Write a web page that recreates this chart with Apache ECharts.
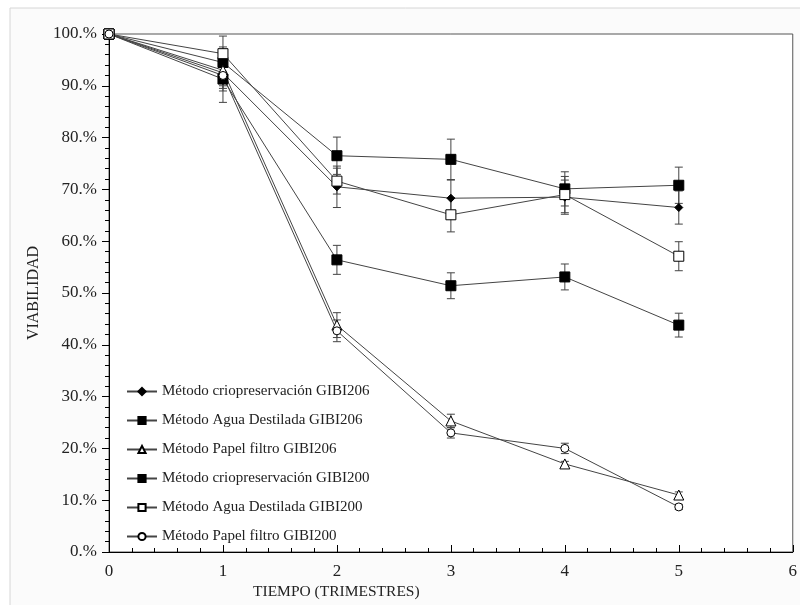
<!DOCTYPE html>
<html lang="es">
<head>
    <meta charset="UTF-8">
    <title>viabilidad</title>
    <style>
        html, body {margin: 0; padding: 0; background: #fff;}
        #main {width: 800px; height: 605px;}
    </style>
</head>
<body>
<div id="main"></div>
<script src="https://cdn.jsdelivr.net/npm/echarts@6/dist/echarts.min.js"></script>
<script type="text/javascript">
// trimestres
var trimestres = [0, 1, 2, 3, 4, 5];

// nombres de las series (leyenda)
var nombres = [
    'Método criopreservación GIBI206',
    'Método Agua Destilada GIBI206',
    'Método Papel filtro GIBI206',
    'Método criopreservación GIBI200',
    'Método Agua Destilada GIBI200',
    'Método Papel filtro GIBI200'
];

// viabilidad (%)
var crio206  = [100, 92.5, 70.5, 68.3, 68.5, 66.5];
var agua206  = [100, 94.5, 76.5, 75.8, 70.1, 70.8];
var papel206 = [100, 93.0, 43.8, 25.3, 17.0, 11.0];
var crio200  = [100, 91.3, 56.4, 51.4, 53.1, 43.8];
var agua200  = [100, 96.2, 71.6, 65.1, 69.0, 57.1];
var papel200 = [100, 92.0, 42.7, 23.0, 20.0, 8.7];

// barras de error (+/-)
var errCrio206  = [0, 2.5, 4.0, 3.5, 3.3, 3.2];
var errAgua206  = [0, 3.0, 3.6, 3.9, 3.3, 3.5];
var errPapel206 = [0, 3.5, 2.4, 1.3, 0.5, 0.6];
var errCrio200  = [0, 4.5, 2.8, 2.5, 2.5, 2.3];
var errAgua200  = [0, 3.4, 2.5, 3.3, 3.5, 2.8];
var errPapel200 = [0, 3.0, 2.1, 1.0, 1.0, 0.5];

var valores = [crio206, agua206, papel206, crio200, agua200, papel200];
var errores = [errCrio206, errAgua206, errPapel206, errCrio200, errAgua200, errPapel200];
var simbolos = ['diamond', 'rect', 'triangle', 'rect', 'rect', 'circle'];
var tamanos = [8, 10, 10, 10, 10, 8];
var rellenos = ['#000', '#000', '#fff', '#000', '#fff', '#fff'];

var fuente = 'Liberation Serif, Times New Roman, serif';
var lineaColor = '#444';

var series = [];
for (var i = 0; i < nombres.length; i++) {
    var puntos = trimestres.map(function (t, k) { return [t, valores[i][k]]; });
    series.push({
        name: nombres[i],
        type: 'line',
        data: puntos,
        symbol: simbolos[i],
        symbolSize: tamanos[i],
        z: 3,
        lineStyle: {color: lineaColor, width: 1},
        itemStyle: {color: rellenos[i], borderColor: '#000', borderWidth: 1},
        emphasis: {disabled: true}
    });
    // barras de error
    var barras = trimestres.map(function (t, k) {
        return [t, valores[i][k] - errores[i][k], valores[i][k] + errores[i][k]];
    }).filter(function (d) { return d[2] - d[1] > 0; });
    series.push({
        type: 'custom',
        z: 2,
        silent: true,
        data: barras,
        renderItem: function (params, api) {
            var bajo = api.coord([api.value(0), api.value(1)]);
            var alto = api.coord([api.value(0), api.value(2)]);
            var c = 4;
            var estilo = {stroke: lineaColor, lineWidth: 1};
            return {
                type: 'group',
                children: [
                    {type: 'line', shape: {x1: alto[0], y1: alto[1], x2: bajo[0], y2: bajo[1]}, style: estilo},
                    {type: 'line', shape: {x1: alto[0] - c, y1: alto[1], x2: alto[0] + c, y2: alto[1]}, style: estilo},
                    {type: 'line', shape: {x1: bajo[0] - c, y1: bajo[1], x2: bajo[0] + c, y2: bajo[1]}, style: estilo}
                ]
            };
        }
    });
}

var myChart = echarts.init(document.getElementById('main'));
myChart.setOption({
    animation: false,
    backgroundColor: '#fff',
    textStyle: {fontFamily: fuente},
    graphic: [
        {
            type: 'rect',
            z: -10,
            shape: {x: 10, y: 8, width: 800, height: 605},
            style: {fill: '#fbfbfb', stroke: '#d6d6d6', lineWidth: 1}
        },
        {
            type: 'text',
            left: 253,
            top: 584,
            style: {text: 'TIEMPO (TRIMESTRES)', font: '15.5px ' + fuente, fill: '#222'}
        }
    ],
    grid: {
        left: 109, right: 2, top: 34, bottom: 53,
        show: true,
        backgroundColor: '#fff',
        borderColor: '#555',
        borderWidth: 1
    },
    legend: {
        orient: 'vertical',
        left: 126,
        top: 384,
        padding: 0,
        itemWidth: 30,
        itemHeight: 9,
        itemGap: 14,
        data: nombres,
        textStyle: {fontFamily: fuente, fontSize: 15, color: '#222'}
    },
    xAxis: {
        type: 'value',
        min: 0, max: 6, interval: 1,
        axisLine: {lineStyle: {color: '#000'}},
        axisTick: {inside: true, length: 7, lineStyle: {color: '#000'}},
        minorTick: {show: true, splitNumber: 5, length: 4, lineStyle: {color: '#000'}},
        splitLine: {show: false},
        axisLabel: {fontSize: 17, color: '#222', margin: 11, fontFamily: fuente}
    },
    yAxis: {
        type: 'value',
        min: 0, max: 100, interval: 10,
        name: 'VIABILIDAD',
        nameLocation: 'middle',
        nameGap: 61,
        nameTextStyle: {fontSize: 16, color: '#222', fontFamily: fuente},
        axisLine: {show: true, lineStyle: {color: '#000'}},
        axisTick: {show: true, length: 7, lineStyle: {color: '#000'}},
        minorTick: {show: true, splitNumber: 5, length: 4, lineStyle: {color: '#000'}},
        splitLine: {show: false},
        axisLabel: {
            fontSize: 17, color: '#222', margin: 12, fontFamily: fuente,
            formatter: function (v) { return v + '.%'; }
        }
    },
    series: series
});
</script>
</body>
</html>
